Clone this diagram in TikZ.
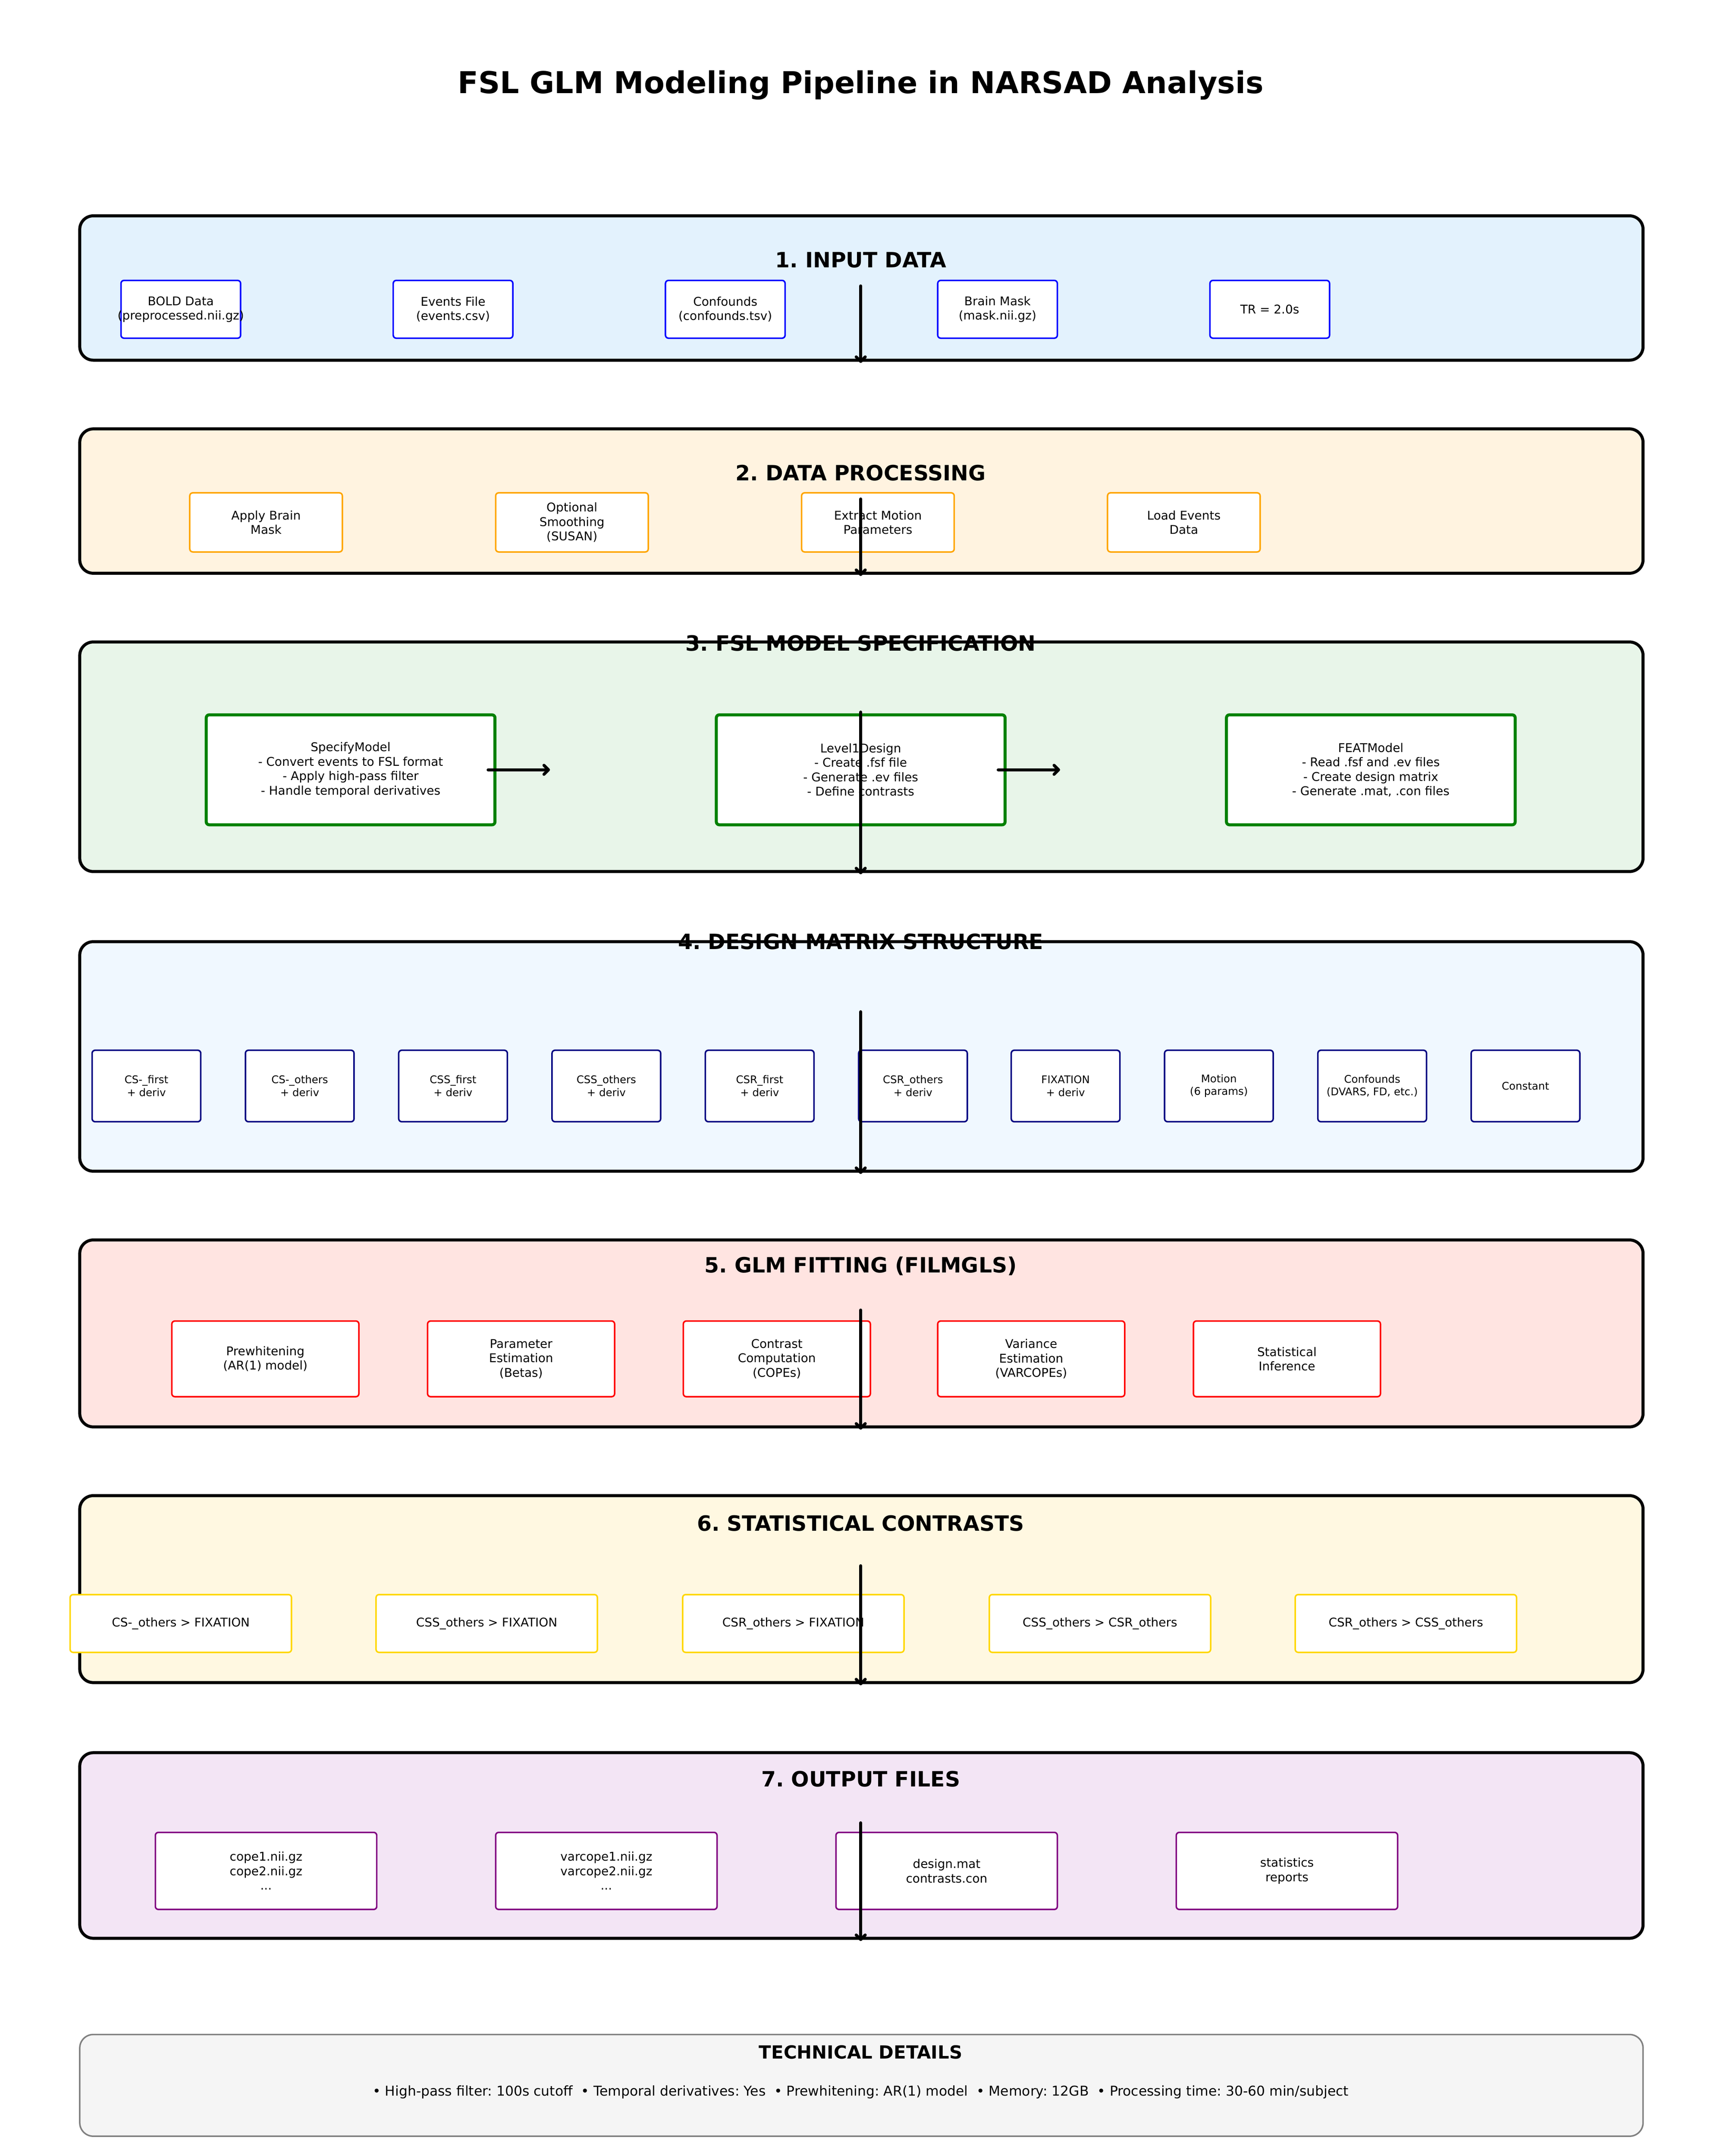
\documentclass[tikz,border=0pt]{standalone}
\usepackage{fontspec}
\setmainfont{DejaVu Sans}
\usetikzlibrary{arrows.meta}

\definecolor{inputbg}{HTML}{E3F2FD}
\definecolor{procbg}{HTML}{FFF3E0}
\definecolor{specbg}{HTML}{E8F5E9}
\definecolor{matbg}{HTML}{F0F8FF}
\definecolor{fitbg}{HTML}{FFE4E1}
\definecolor{conbg}{HTML}{FFF8E1}
\definecolor{outbg}{HTML}{F3E5F5}
\definecolor{techbg}{HTML}{F5F5F5}
\definecolor{inputedge}{HTML}{0000FF}
\definecolor{procedge}{HTML}{FFA500}
\definecolor{specedge}{HTML}{008000}
\definecolor{matedge}{HTML}{000080}
\definecolor{fitedge}{HTML}{FF0000}
\definecolor{conedge}{HTML}{FFD700}
\definecolor{outedge}{HTML}{800080}
\definecolor{techedge}{HTML}{808080}

\tikzset{
  panel/.style={draw=black, line width=2pt, rounded corners=9pt},
  head/.style={font=\fontsize{14}{16.8}\selectfont\bfseries},
  item/.style={draw, fill=white, rounded corners=2pt, line width=1pt, align=center,
    inner sep=0pt, font=\fontsize{8}{9.6}\selectfont},
  inbox/.style={item, draw=inputedge, minimum width=79.5pt, minimum height=38.4pt},
  procbox/.style={item, draw=procedge, minimum width=101.4pt, minimum height=39.3pt},
  specbox/.style={item, draw=specedge, line width=2pt, minimum width=191.9pt, minimum height=73.1pt},
  matbox/.style={item, draw=matedge, minimum width=72.2pt, minimum height=47.5pt,
    font=\fontsize{7}{8.4}\selectfont},
  fitbox/.style={item, draw=fitedge, minimum width=124.3pt, minimum height=50.3pt},
  conbox/.style={item, draw=conedge, minimum width=147.1pt, minimum height=38.4pt},
  outbox/.style={item, draw=outedge, minimum width=147.1pt, minimum height=51.2pt},
  flow/.style={-{Straight Barb[length=3pt,width=6pt,round]}, line width=2pt, line cap=round, line join=round}
}

\begin{document}
\frenchspacing
\begin{tikzpicture}[x=0.9137pt, y=-0.9137pt]
  \useasboundingbox (0,0) rectangle (1253.1,1568.4);
  \fill[white] (0,0) rectangle (1253.1,1568.4);

  \node[font=\fontsize{20}{24}\selectfont\bfseries] (title) at (626,62)
    {FSL GLM Modeling Pipeline in NARSAD Analysis};

  % 1. input data
  \draw[panel, fill=inputbg] (58,157) rectangle (1195,262);
  \node[head] (h1) at (626,189) {1. INPUT DATA};
  \draw (131.5,225) node[inbox](bold){BOLD Data\\\makebox[0pt]{(preprocessed.nii.gz)}}
    (329.5,225) node[inbox](events){Events File\\(events.csv)}
    (527.5,225) node[inbox](confounds){Confounds\\(confounds.tsv)}
    (725.5,225) node[inbox](mask){Brain Mask\\(mask.nii.gz)}
    (923.5,225) node[inbox](tr){TR = 2.0s};

  % 2. data processing
  \draw[panel, fill=procbg] (58,312) rectangle (1195,417);
  \node[head] (h2) at (626,344) {2. DATA PROCESSING};
  \draw (193.5,380) node[procbox](applymask){Apply Brain\\Mask}
    (416,380) node[procbox](smooth){Optional\\Smoothing\\(SUSAN)}
    (638.5,380) node[procbox](motion){Extract Motion\\Parameters}
    (861,380) node[procbox](loadev){Load Events\\Data};

  % 3. model specification
  \draw[panel, fill=specbg] (58,467) rectangle (1195,634);
  \node[head] (h3) at (626,468) {3. FSL MODEL SPECIFICATION};
  \draw (255,560) node[specbox](specify){SpecifyModel\\- Convert events to FSL format\\- Apply high-pass filter\\- Handle temporal derivatives}
    (626,560) node[specbox](level1){Level1Design\\- Create .fsf file\\- Generate .ev files\\- Define contrasts}
    (997,560) node[specbox](feat){FEATModel\\- Read .fsf and .ev files\\- Create design matrix\\- Generate .mat, .con files};

  % 4. design matrix
  \draw[panel, fill=matbg] (58,685) rectangle (1195,852);
  \node[head] (h4) at (626,685) {4. DESIGN MATRIX STRUCTURE};
  \draw (106.5,790) node[matbox](csmf){CS-\_first\\+ deriv}
    (218,790) node[matbox](csmo){CS-\_others\\+ deriv}
    (329.5,790) node[matbox](cssf){CSS\_first\\+ deriv}
    (441,790) node[matbox](csso){CSS\_others\\+ deriv}
    (552.5,790) node[matbox](csrf){CSR\_first\\+ deriv}
    (664,790) node[matbox](csro){CSR\_others\\+ deriv}
    (775,790) node[matbox](fix){FIXATION\\+ deriv}
    (886.5,790) node[matbox](mot){Motion\\(6 params)}
    (998,790) node[matbox](conf){Confounds\\(DVARS, FD, etc.)}
    (1109.5,790) node[matbox](const){Constant};

  % 5. glm fitting
  \draw[panel, fill=fitbg] (58,902) rectangle (1195,1038);
  \node[head] (h5) at (626,921) {5. GLM FITTING (FILMGLS)};
  \draw (193,988.5) node[fitbox](prew){Prewhitening\\(AR(1) model)}
    (379,988.5) node[fitbox](param){Parameter\\Estimation\\(Betas)}
    (565,988.5) node[fitbox](cope){Contrast\\Computation\\(COPEs)}
    (750,988.5) node[fitbox](varc){Variance\\Estimation\\(VARCOPEs)}
    (936,988.5) node[fitbox](infer){Statistical\\Inference};

  % 6. contrasts
  \draw[panel, fill=conbg] (58,1088) rectangle (1195,1224);
  \node[head] (h6) at (626,1108) {6. STATISTICAL CONTRASTS};
  \draw (131.5,1181) node[conbox](c1){CS-\_others > FIXATION}
    (354,1181) node[conbox](c2){CSS\_others > FIXATION}
    (577,1181) node[conbox](c3){CSR\_others > FIXATION}
    (800,1181) node[conbox](c4){CSS\_others > CSR\_others}
    (1022.5,1181) node[conbox](c5){CSR\_others > CSS\_others};

  % 7. outputs
  \draw[panel, fill=outbg] (58,1275) rectangle (1195,1410);
  \node[head] (h7) at (626,1294) {7. OUTPUT FILES};
  \draw (193.5,1361) node[outbox](copes){cope1.nii.gz\\cope2.nii.gz\\...}
    (441,1361) node[outbox](varcopes){varcope1.nii.gz\\varcope2.nii.gz\\...}
    (688.5,1361) node[outbox](design){design.mat\\contrasts.con}
    (936,1361) node[outbox](stats){statistics\\reports};

  % technical details
  \draw[draw=techedge, fill=techbg, line width=1pt, rounded corners=9pt] (58,1480) rectangle (1195,1554);
  \node[font=\fontsize{12}{14.4}\selectfont\bfseries] (techhead) at (626,1493) {TECHNICAL DETAILS};
  \node[font=\fontsize{9}{10.8}\selectfont] (techtext) at (626,1522)
    {• High-pass filter: 100s cutoff~~• Temporal derivatives: Yes~~• Prewhitening: AR(1) model~~• Memory: 12GB~~• Processing time: 30-60 min/subject};

  % flow arrows
  \coordinate (a1s) at (626,208);  \coordinate (a1e) at (626,264);
  \coordinate (a2s) at (626,363);  \coordinate (a2e) at (626,419);
  \coordinate (a3s) at (626,518);  \coordinate (a3e) at (626,636);
  \coordinate (a4s) at (626,736);  \coordinate (a4e) at (626,854);
  \coordinate (a5s) at (626,953);  \coordinate (a5e) at (626,1040);
  \coordinate (a6s) at (626,1139); \coordinate (a6e) at (626,1226);
  \coordinate (a7s) at (626,1326); \coordinate (a7e) at (626,1412);
  \coordinate (sp1) at (355,560);  \coordinate (sp2) at (400,560);
  \coordinate (sp3) at (726,560);  \coordinate (sp4) at (771,560);

  \draw[flow] (a1s) -- (a1e);
  \draw[flow] (a2s) -- (a2e);
  \draw[flow] (a3s) -- (a3e);
  \draw[flow] (a4s) -- (a4e);
  \draw[flow] (a5s) -- (a5e);
  \draw[flow] (a6s) -- (a6e);
  \draw[flow] (a7s) -- (a7e);
  \draw[flow] (sp1) -- (sp2);
  \draw[flow] (sp3) -- (sp4);
\end{tikzpicture}
\end{document}
